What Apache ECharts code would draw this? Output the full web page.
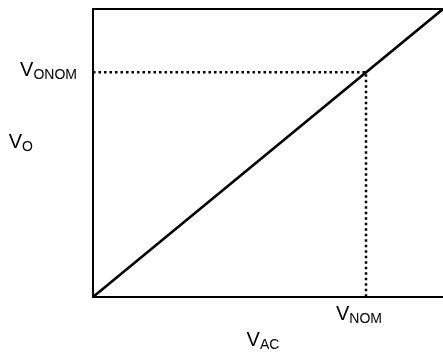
<!DOCTYPE html>
<html>
<head>
<meta charset="utf-8">
<script src="https://cdn.jsdelivr.net/npm/echarts@6/dist/echarts.min.js"></script>
<style>
  html, body { margin: 0; padding: 0; background: #fff; }
  #chart { width: 443px; height: 352px; }
</style>
</head>
<body>
<div id="chart"></div>
<script>
// 数据
const vacValues = [0, 1];          // V_AC (归一化)
const voValues = [0, 1];           // V_O (归一化)
const nominal = 0.78;              // V_NOM / V_ONOM 位置
const dottedX = [0, nominal, nominal];
const dottedY = [nominal, nominal, 0];
const xTickLabels = ['NOM'];
const yTickLabels = ['ONOM'];

const chart = echarts.init(document.getElementById('chart'));

const rich = {
  v: { fontSize: 20, lineHeight: 24, fontFamily: 'Liberation Sans', color: '#000' },
  s: { fontSize: 14, lineHeight: 14, verticalAlign: 'bottom', fontFamily: 'Liberation Sans', color: '#000' }
};
const sub = (s) => '{v|V}{s|' + s + '}';

const hideAxis = {
  splitLine: { show: false },
  axisTick: { show: false }
};

chart.setOption({
  animation: false,
  grid: { left: 93, right: 0, top: 9, bottom: 55, outerBoundsMode: 'none', containLabel: false },
  xAxis: [
    {
      type: 'value', min: 0, max: 1, ...hideAxis,
      axisLine: { lineStyle: { color: '#000', width: 2 } },
      axisLabel: {
        customValues: [nominal],
        margin: 5,
        formatter: () => sub(xTickLabels[0]),
        rich: rich,
        padding: [0, 14, 0, 0]
      },
      name: sub('AC'),
      nameLocation: 'middle',
      nameGap: 31,
      nameMoveOverlap: false,
      nameTextStyle: { rich: rich, padding: [0, 10, 0, 0] }
    },
    {
      type: 'value', min: 0, max: 1, position: 'top', ...hideAxis,
      axisLine: { lineStyle: { color: '#000', width: 2 } },
      axisLabel: { show: false }
    }
  ],
  yAxis: {
    type: 'value', min: 0, max: 1, ...hideAxis,
    axisLine: { lineStyle: { color: '#000', width: 2 } },
    axisLabel: {
      customValues: [nominal],
      margin: 16,
      formatter: () => sub(yTickLabels[0]),
      rich: rich,
      padding: [0, 0, 4, 0]
    },
    name: sub('O'),
    nameLocation: 'middle',
    nameRotate: 0,
    nameGap: 60,
    nameMoveOverlap: false,
    nameTextStyle: { rich: rich, padding: [0, 0, 22, 0] }
  },
  series: [
    {
      type: 'line',
      data: vacValues.map((x, i) => [x, voValues[i]]),
      symbol: 'none',
      lineStyle: { color: '#000', width: 2.6 },
      z: 3
    },
    {
      type: 'line',
      data: dottedX.map((x, i) => [x, dottedY[i]]),
      symbol: 'none',
      lineStyle: { color: '#000', width: 2.5, type: [2.5, 3] },
      z: 2
    }
  ]
});
</script>
</body>
</html>
